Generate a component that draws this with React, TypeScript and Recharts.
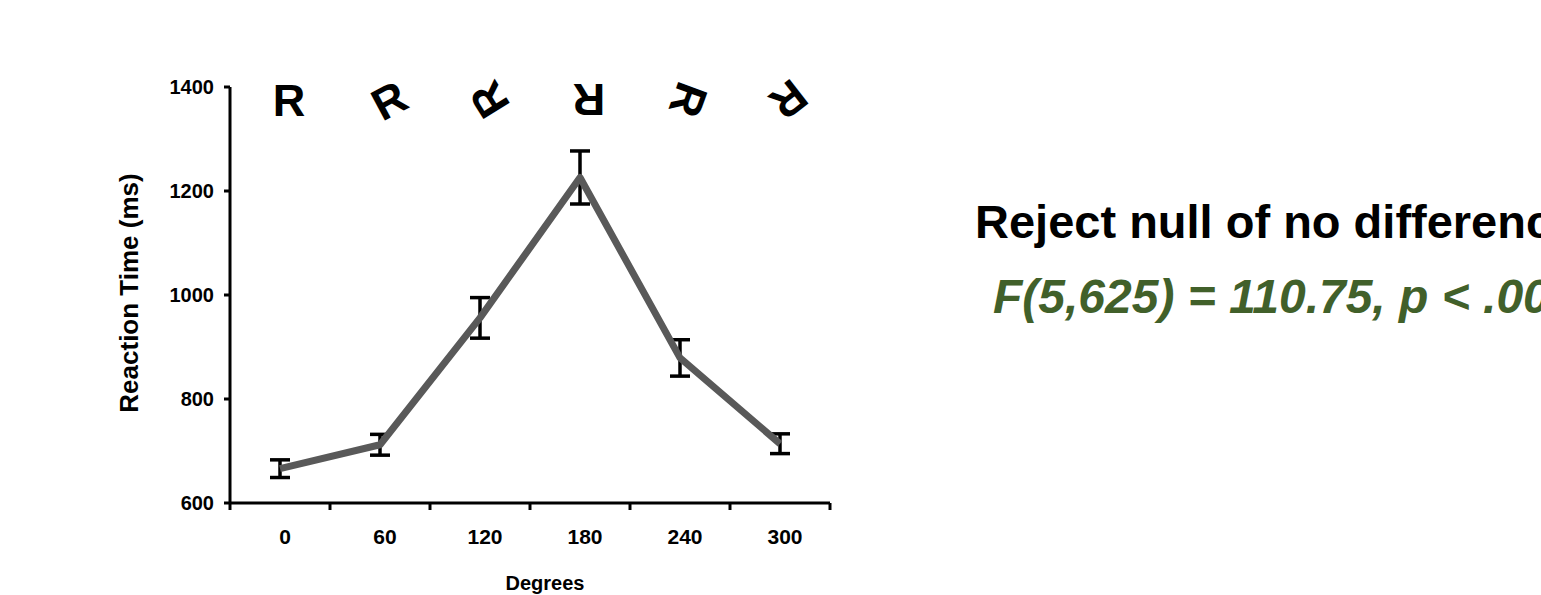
import React from 'react';
import { ComposedChart, Line, XAxis, YAxis, ErrorBar, Label } from 'recharts';

// rotation of the stimulus letter, in degrees
const degrees = [0, 60, 120, 180, 240, 300];
const meanRT = [666, 712, 956, 1226, 879, 714];
const errRT = [17, 20, 39, 51, 35, 19];
const letterAngles = [0, -28, -122, 180, 110, 142];
const yTicks = [600, 800, 1000, 1200, 1400];
const boundaryTicks = [-30, 30, 90, 150, 210, 270, 330];

const data = degrees.map((d, i) => ({ deg: d, rt: meanRT[i], err: errRT[i] }));

const FONT = '"Liberation Sans", Arial, sans-serif';
const X_DOMAIN: [number, number] = [-30, 330];

const LetterTick = (props: any) => {
  const { x, payload } = props;
  const i = degrees.indexOf(payload.value);
  return (
    <text
      x={0}
      y={0}
      dy="0.36em"
      textAnchor="middle"
      transform={`translate(${x + 9},100) rotate(${letterAngles[i]})`}
      fontFamily={FONT}
      fontWeight={700}
      fontSize={45}
      fill="#000"
    >
      R
    </text>
  );
};

const DegreeTick = (props: any) => {
  const { x, payload } = props;
  return (
    <text
      x={x + 5}
      y={536}
      textAnchor="middle"
      dominantBaseline="central"
      fontFamily={FONT}
      fontWeight={700}
      fontSize={21}
      fill="#000"
    >
      {payload.value}
    </text>
  );
};

// boundary axis shows only its tick marks
const EmptyTick = () => <g />;

const YTitle = (props: any) => {
  const { viewBox } = props;
  const cy = viewBox.y + viewBox.height / 2;
  return (
    <text
      x={0}
      y={0}
      textAnchor="middle"
      dominantBaseline="central"
      transform={`translate(129,${cy - 2}) rotate(-90)`}
      fontFamily={FONT}
      fontWeight={700}
      fontSize={26}
      fill="#000"
    >
      Reaction Time (ms)
    </text>
  );
};

const XTitle = (props: any) => {
  const { viewBox } = props;
  return (
    <text
      x={viewBox.x + viewBox.width / 2 + 15}
      y={583}
      textAnchor="middle"
      dominantBaseline="central"
      fontFamily={FONT}
      fontWeight={700}
      fontSize={20}
      fill="#000"
    >
      Degrees
    </text>
  );
};

export default function App() {
  return (
    <div style={{ position: 'fixed', left: 0, top: 0, width: 1541, height: 595, overflow: 'hidden', background: '#fff' }}>
      <div style={{ position: 'absolute', left: 0, top: 0 }}>
        <ComposedChart width={900} height={595} data={data} margin={{ top: 27, right: 70, bottom: 32, left: 160 }}>
          <XAxis
            xAxisId="bound"
            type="number"
            dataKey="deg"
            domain={X_DOMAIN}
            allowDataOverflow
            ticks={boundaryTicks}
            interval={0}
            tick={<EmptyTick />}
            height={10}
            tickSize={7}
            axisLine={{ stroke: '#000', strokeWidth: 3 }}
            tickLine={{ stroke: '#000', strokeWidth: 3 }}
          />
          <XAxis
            xAxisId="lab"
            type="number"
            dataKey="deg"
            domain={X_DOMAIN}
            allowDataOverflow
            ticks={degrees}
            interval={0}
            height={50}
            axisLine={false}
            tickLine={false}
            tick={<DegreeTick />}
          >
            <Label content={<XTitle />} />
          </XAxis>
          <XAxis
            xAxisId="top"
            orientation="top"
            type="number"
            dataKey="deg"
            domain={X_DOMAIN}
            allowDataOverflow
            ticks={degrees}
            interval={0}
            height={60}
            axisLine={false}
            tickLine={false}
            tick={<LetterTick />}
          />
          <YAxis
            type="number"
            domain={[600, 1400]}
            ticks={yTicks}
            interval={0}
            width={70}
            tickSize={6}
            tickMargin={10}
            axisLine={{ stroke: '#000', strokeWidth: 3 }}
            tickLine={{ stroke: '#000', strokeWidth: 3 }}
            tick={{ fontSize: 20, fontWeight: 700, fill: '#000', fontFamily: FONT }}
          >
            <Label content={<YTitle />} />
          </YAxis>
          {/* invisible series so the label axes get a domain */}
          <Line xAxisId="lab" dataKey="rt" stroke="none" dot={false} activeDot={false} isAnimationActive={false} />
          <Line xAxisId="top" dataKey="rt" stroke="none" dot={false} activeDot={false} isAnimationActive={false} />
          <Line
            xAxisId="bound"
            type="linear"
            dataKey="rt"
            stroke="#595959"
            strokeWidth={7}
            strokeLinejoin="round"
            dot={false}
            activeDot={false}
            isAnimationActive={false}
          >
            <ErrorBar dataKey="err" width={10} stroke="#000" strokeWidth={3.5} isAnimationActive={false} />
          </Line>
        </ComposedChart>
      </div>
      <svg width={1541} height={595} style={{ position: 'absolute', left: 0, top: 0, pointerEvents: 'none' }}>
        <text x={975} y={238} fontFamily={FONT} fontWeight={700} fontSize={47} fill="#000">
          Reject null of no difference
        </text>
        <text x={993} y={313} fontFamily={FONT} fontWeight={700} fontStyle="italic" fontSize={48} fill="#41602a">
          F(5,625) = 110.75, p &lt; .001
        </text>
      </svg>
    </div>
  );
}
